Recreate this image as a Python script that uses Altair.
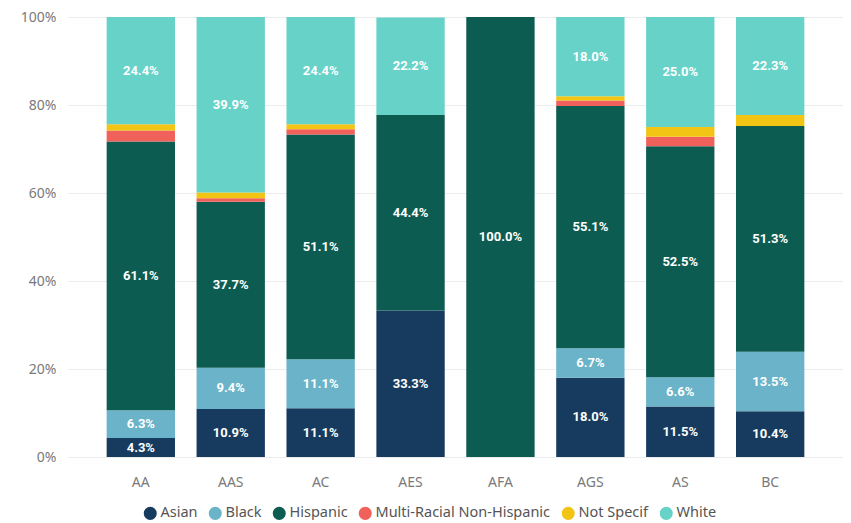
import altair as alt
import pandas as pd

categories = ["AA", "AAS", "AC", "AES", "AFA", "AGS", "AS", "BC"]
groups = ["Asian", "Black", "Hispanic", "Multi-Racial Non-Hispanic", "Not Specif", "White"]
colors = ["#173B5E", "#6AB3C8", "#0D5C51", "#F0615C", "#F2C413", "#67D2C8"]

asian      = [4.3, 10.9, 11.1, 33.3, 0.0, 18.0, 11.5, 10.4]
black      = [6.3, 9.4, 11.1, 0.0, 0.0, 6.7, 6.6, 13.5]
hispanic   = [61.1, 37.7, 51.1, 44.4, 100.0, 55.1, 52.5, 51.3]
multi      = [2.5, 0.8, 1.2, 0.0, 0.0, 1.2, 2.2, 0.0]
not_specif = [1.4, 1.3, 1.1, 0.0, 0.0, 1.0, 2.2, 2.5]
white      = [24.4, 39.9, 24.4, 22.2, 0.0, 18.0, 25.0, 22.3]

series = [asian, black, hispanic, multi, not_specif, white]
labelled = ["Asian", "Black", "Hispanic", "White"]

rows = []
for gi, (g, vals) in enumerate(zip(groups, series)):
    for c, v in zip(categories, vals):
        rows.append({"cat": c, "group": g, "order": gi, "value": v})
df = pd.DataFrame(rows)

base = alt.Chart(df).transform_stack(
    stack="value", groupby=["cat"], as_=["y0", "y1"],
    sort=[alt.SortField("order", order="ascending")]
)

x = alt.X("cat:N", sort=categories, title=None,
          scale=alt.Scale(paddingInner=0.24, paddingOuter=0.43),
          axis=alt.Axis(labelAngle=0, ticks=False, domain=False, labelColor="#7a7a7a",
                        labelFontSize=14, labelPadding=18, labelFont="Noto Sans"))

bars = base.mark_bar().encode(
    x=x,
    y=alt.Y("y0:Q", title=None, scale=alt.Scale(domain=[0, 100], nice=False),
            axis=alt.Axis(values=[0, 20, 40, 60, 80, 100], labelExpr="datum.value + '%'",
                          ticks=False, domain=False, gridColor="#ececec",
                          labelColor="#7a7a7a", labelFontSize=14, labelPadding=12,
                          labelFont="Noto Sans")),
    y2="y1:Q",
    color=alt.Color("group:N", scale=alt.Scale(domain=groups, range=colors),
                    legend=alt.Legend(orient="none", legendX=75, legendY=489,
                                      direction="horizontal", title=None,
                                      symbolType="circle", symbolSize=170,
                                      symbolStrokeWidth=0, labelFontSize=14.5,
                                      labelColor="#555555", labelFont="Noto Sans",
                                      labelLimit=400, columnPadding=10, labelOffset=3)),
    order=alt.Order("order:Q"),
)

text = base.transform_filter(
    alt.FieldOneOfPredicate(field="group", oneOf=labelled)
).transform_filter("datum.value > 0").transform_calculate(
    mid="(datum.y0 + datum.y1) / 2",
    lab="format(datum.value, '.1f') + '%'",
).mark_text(color="white", fontWeight="bold", fontSize=13, font="Roboto",
            baseline="middle").encode(
    x=alt.X("cat:N", sort=categories),
    y=alt.Y("mid:Q"),
    text="lab:N",
)

chart = alt.layer(bars, text).properties(
    width=775, height=440,
    padding={"top": 2, "left": 12, "right": 0, "bottom": 0},
).configure_view(stroke=None)

chart.save("out.html", embed_options={"renderer": "svg", "actions": False})
